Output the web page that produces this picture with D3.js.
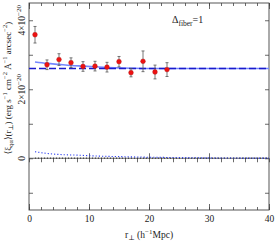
<!DOCTYPE html>
<html>
<head>
<meta charset="utf-8">
<script src="https://cdn.jsdelivr.net/npm/d3@7"></script>
<style>
  body { margin: 0; background: #fff; }
  text { font-family: "Liberation Serif", "DejaVu Serif", serif; fill: #222; }
</style>
</head>
<body>
<div id="chart"></div>
<script>
// measurements (units of 1e-20)
const rp = [1, 3, 5, 7, 9, 11, 13, 15, 17, 19, 21, 23]
const xi = [3.58, 2.71, 2.86, 2.77, 2.66, 2.67, 2.64, 2.80, 2.48, 2.81, 2.50, 2.57]
const xiErr = [0.24, 0.14, 0.17, 0.14, 0.14, 0.14, 0.14, 0.15, 0.12, 0.30, 0.20, 0.20]

// model curves
const solidR = [1, 3, 5, 7, 9, 11, 13, 15, 17, 20, 25, 30, 35, 40]
const solidV = [2.79, 2.75, 2.72, 2.69, 2.67, 2.65, 2.63, 2.62, 2.61, 2.60, 2.60, 2.60, 2.60, 2.60]
const dashR = [0, 40]
const dashV = [2.6, 2.6]
const dotR = [1, 3, 5, 8, 12, 16, 20, 25, 30, 35, 40]
const dotV = [0.19, 0.14, 0.11, 0.09, 0.06, 0.045, 0.03, 0.02, 0.01, 0.005, 0.003]

const xTicks = [0, 10, 20, 30, 40]
const yLabelTicks = [0, 2, 4]

const WIDTH = 275, HEIGHT = 243
const margin = {top: 3, right: 6, bottom: 33, left: 29}
const w = WIDTH - margin.left - margin.right
const h = HEIGHT - margin.top - margin.bottom

const svg = d3.select('#chart').append('svg')
  .attr('width', WIDTH)
  .attr('height', HEIGHT)

const g = svg.append('g')
  .attr('transform', `translate(${margin.left},${margin.top})`)

const x = d3.scaleLinear().domain([0, 40]).range([0, w])
const y = d3.scaleLinear().domain([-1.5, 4.5]).range([h, 0])

const axisCol = '#444'

// frame ticks
const minorX = d3.range(0, 41, 2)
const minorY = d3.range(-1, 5, 1)

function styleAxis(sel) {
  sel.select('.domain').remove()
  sel.selectAll('line').attr('stroke', axisCol).attr('stroke-width', 0.8)
}

g.append('g').attr('transform', `translate(0,${h})`)
  .call(d3.axisBottom(x).tickValues(minorX).tickSize(-3).tickFormat(''))
  .call(styleAxis)
g.append('g').attr('transform', `translate(0,${h})`)
  .call(d3.axisBottom(x).tickValues(xTicks).tickSize(-6).tickPadding(5).tickFormat(d3.format('d')))
  .call(styleAxis)
  .selectAll('text').attr('font-size', 9.5).attr('fill', '#222')

g.append('g')
  .call(d3.axisTop(x).tickValues(minorX).tickSize(-3).tickFormat(''))
  .call(styleAxis)
g.append('g')
  .call(d3.axisTop(x).tickValues(xTicks).tickSize(-6).tickFormat(''))
  .call(styleAxis)

g.append('g')
  .call(d3.axisLeft(y).tickValues(minorY).tickSize(-4).tickFormat(''))
  .call(styleAxis)
g.append('g').attr('transform', `translate(${w},0)`)
  .call(d3.axisRight(y).tickValues(minorY).tickSize(-4).tickFormat(''))
  .call(styleAxis)

// zero line with ticks
g.append('line')
  .attr('x1', 0).attr('x2', w)
  .attr('y1', y(0)).attr('y2', y(0))
  .attr('stroke', axisCol).attr('stroke-width', 0.8)
g.append('g').attr('transform', `translate(0,${y(0)})`)
  .call(d3.axisBottom(x).tickValues(minorX).tickSize(4).tickFormat(''))
  .call(styleAxis)
g.append('g').attr('transform', `translate(0,${y(0)})`)
  .call(d3.axisTop(x).tickValues(xTicks.slice(1, 4)).tickSize(5).tickFormat(''))
  .call(styleAxis)

// frame
g.append('rect')
  .attr('width', w).attr('height', h)
  .attr('fill', 'none').attr('stroke', axisCol).attr('stroke-width', 0.9)

// y tick labels (rotated)
yLabelTicks.forEach(v => {
  const t = svg.append('text')
    .attr('transform', `translate(${margin.left - 4},${margin.top + y(v)}) rotate(-90)`)
    .attr('text-anchor', 'middle')
    .attr('font-size', 9.5)
  if (v === 0) {
    t.text('0')
  } else {
    t.append('tspan').text(v + '×10')
    t.append('tspan').attr('dy', -4).attr('font-size', 7).text('−20')
  }
})

const line = d3.line().x(d => x(d[0])).y(d => y(d[1]))

// dotted curves near zero
g.append('path')
  .datum(dotR.map((r, i) => [r, 0.004]))
  .attr('d', line.curve(d3.curveLinear))
  .attr('fill', 'none').attr('stroke', '#222')
  .attr('stroke-width', 1).attr('stroke-dasharray', '1,2')
g.append('path')
  .datum(dotR.map((r, i) => [r, dotV[i]]))
  .attr('d', line.curve(d3.curveMonotoneX))
  .attr('fill', 'none').attr('stroke', '#3344ee')
  .attr('stroke-width', 1.1).attr('stroke-dasharray', '1.2,2')

// model solid
g.append('path')
  .datum(solidR.map((r, i) => [r, solidV[i]]))
  .attr('d', line.curve(d3.curveMonotoneX))
  .attr('fill', 'none').attr('stroke', '#7386ff')
  .attr('stroke-width', 1.6)

// dashed
g.append('path')
  .datum(dashR.map((r, i) => [r, dashV[i]]))
  .attr('d', line.curve(d3.curveLinear))
  .attr('fill', 'none').attr('stroke', '#1a1acc')
  .attr('stroke-width', 1.5).attr('stroke-dasharray', '7,3')

// error bars
const pts = rp.map((r, i) => ({r: r, v: xi[i], e: xiErr[i]}))
const eb = g.append('g').attr('stroke', '#555').attr('stroke-width', 0.8)
eb.selectAll('.bar').data(pts).join('line')
  .attr('x1', d => x(d.r)).attr('x2', d => x(d.r))
  .attr('y1', d => y(d.v - d.e)).attr('y2', d => y(d.v + d.e))
eb.selectAll('.capt').data(pts).join('line')
  .attr('x1', d => x(d.r) - 1.5).attr('x2', d => x(d.r) + 1.5)
  .attr('y1', d => y(d.v + d.e)).attr('y2', d => y(d.v + d.e))
eb.selectAll('.capb').data(pts).join('line')
  .attr('x1', d => x(d.r) - 1.5).attr('x2', d => x(d.r) + 1.5)
  .attr('y1', d => y(d.v - d.e)).attr('y2', d => y(d.v - d.e))

g.selectAll('.pt').data(pts).join('circle')
  .attr('cx', d => x(d.r)).attr('cy', d => y(d.v))
  .attr('r', 2.4)
  .attr('fill', '#ee1111').attr('stroke', '#aa2222').attr('stroke-width', 0.4)

// annotation
const ann = svg.append('text')
  .attr('x', 172).attr('y', 23)
  .attr('font-size', 10)
ann.append('tspan').text('Δ')
ann.append('tspan').attr('dy', 3).attr('font-size', 7.5).text('fiber')
ann.append('tspan').attr('dy', -3).text('=1')

// x label
const xl = svg.append('text')
  .attr('x', margin.left + w / 2).attr('y', 238)
  .attr('text-anchor', 'middle').attr('font-size', 9.5)
xl.append('tspan').text('r')
xl.append('tspan').attr('dy', 2).attr('font-size', 7).text('⊥')
xl.append('tspan').attr('dy', -2).text(' (h')
xl.append('tspan').attr('dy', -4).attr('font-size', 7).text('−1')
xl.append('tspan').attr('dy', 4).text('Mpc)')

// y label
const yl = svg.append('text')
  .attr('transform', `translate(11,88) rotate(-90)`)
  .attr('text-anchor', 'middle').attr('font-size', 9)
yl.append('tspan').text('⟨ξ')
yl.append('tspan').attr('dy', 2).attr('font-size', 6.5).text('qα')
yl.append('tspan').attr('dy', -2).text('⟩(r')
yl.append('tspan').attr('dy', 2).attr('font-size', 6.5).text('⊥')
yl.append('tspan').attr('dy', -2).text(') (erg s')
yl.append('tspan').attr('dy', -4).attr('font-size', 6.5).text('−1')
yl.append('tspan').attr('dy', 4).text(' cm')
yl.append('tspan').attr('dy', -4).attr('font-size', 6.5).text('−2')
yl.append('tspan').attr('dy', 4).text(' Å')
yl.append('tspan').attr('dy', -4).attr('font-size', 6.5).text('−1')
yl.append('tspan').attr('dy', 4).text(' arcsec')
yl.append('tspan').attr('dy', -4).attr('font-size', 6.5).text('−2')
yl.append('tspan').attr('dy', 4).text(')')
</script>
</body>
</html>
